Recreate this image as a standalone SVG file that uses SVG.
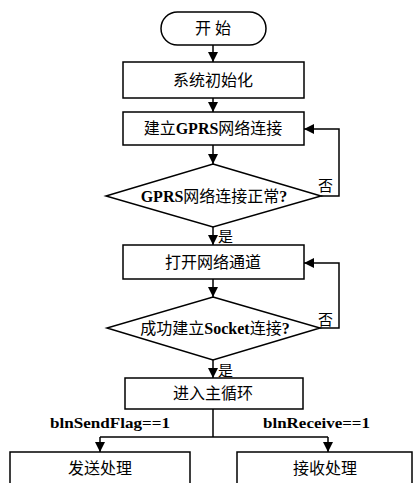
<svg xmlns="http://www.w3.org/2000/svg" width="414" height="483" viewBox="0 0 414 483">
<defs>
<marker id="ah" viewBox="0 0 10 10" refX="10" refY="5" markerWidth="10" markerHeight="10" markerUnits="userSpaceOnUse" orient="auto">
<path d="M0,0 L10,5 L0,10 Z" fill="#000"/>
</marker>
</defs>
<style>
.s{fill:#fff;stroke:#000;stroke-width:1.5}
.c{fill:none;stroke:#000;stroke-width:1.5}
.t{font-family:"Liberation Serif","Noto Sans CJK SC",serif;font-size:16px;fill:#000;text-anchor:middle}
.b{font-weight:bold}
.l{font-family:"Liberation Serif","Noto Sans CJK SC",serif;font-size:15px;fill:#000}
</style>
<rect width="414" height="483" fill="#fff"/>
<g id="connectors">
<line class="c" x1="213" y1="45" x2="213" y2="62" marker-end="url(#ah)"/>
<line class="c" x1="213" y1="98" x2="213" y2="112" marker-end="url(#ah)"/>
<line class="c" x1="213" y1="145" x2="213" y2="164" marker-end="url(#ah)"/>
<polyline class="c" points="321,196 339,196 339,129 304,129" marker-end="url(#ah)"/>
<line class="c" x1="213" y1="227" x2="213" y2="245" marker-end="url(#ah)"/>
<line class="c" x1="213" y1="279" x2="213" y2="297" marker-end="url(#ah)"/>
<polyline class="c" points="320,328 339,328 339,263 304,263" marker-end="url(#ah)"/>
<line class="c" x1="213" y1="360" x2="213" y2="378" marker-end="url(#ah)"/>
<line class="c" x1="213" y1="409" x2="213" y2="437"/>
<line class="c" x1="100" y1="437" x2="328" y2="437"/>
<line class="c" x1="100" y1="437" x2="100" y2="452" marker-end="url(#ah)"/>
<line class="c" x1="328" y1="437" x2="328" y2="452" marker-end="url(#ah)"/>
<text class="l" x="318" y="191">否</text>
<text class="l" x="218" y="242">是</text>
<text class="l" x="318" y="325">否</text>
<text class="l" x="218" y="376">是</text>
<text class="l b" x="50" y="428" textLength="120" lengthAdjust="spacingAndGlyphs">blnSendFlag==1</text>
<text class="l b" x="263" y="428" textLength="107" lengthAdjust="spacingAndGlyphs">blnReceive==1</text>
</g>
<g id="start">
<rect class="s" x="161" y="12" width="105" height="33" rx="16.5"/>
<text class="t" x="213" y="34">开 始</text>
</g>
<g id="init">
<rect class="s" x="123" y="62" width="181" height="36"/>
<text class="t" x="213" y="86">系统初始化</text>
</g>
<g id="gprs">
<rect class="s" x="123" y="112" width="181" height="33"/>
<text class="t" x="213" y="134">建立<tspan class="b">GPRS</tspan>网络连接</text>
</g>
<g id="gprsok">
<polygon class="s" points="213,164 321,196 213,227 106,196"/>
<text class="t" x="214" y="202"><tspan class="b">GPRS</tspan>网络连接正常<tspan class="b">?</tspan></text>
</g>
<g id="channel">
<rect class="s" x="123" y="245" width="181" height="34"/>
<text class="t" x="213" y="268">打开网络通道</text>
</g>
<g id="socket">
<polygon class="s" points="213,297 320,328 213,360 107,328"/>
<text class="t" x="215" y="334">成功建立<tspan class="b">Socket</tspan>连接<tspan class="b">?</tspan></text>
</g>
<g id="mainloop">
<rect class="s" x="125" y="378" width="178" height="31"/>
<text class="t" x="213" y="399">进入主循环</text>
</g>
<g id="send">
<rect class="s" x="10" y="452" width="180" height="40"/>
<text class="t" x="100" y="474">发送处理</text>
</g>
<g id="recv">
<rect class="s" x="237" y="452" width="175" height="40"/>
<text class="t" x="325" y="474">接收处理</text>
</g>
</svg>
